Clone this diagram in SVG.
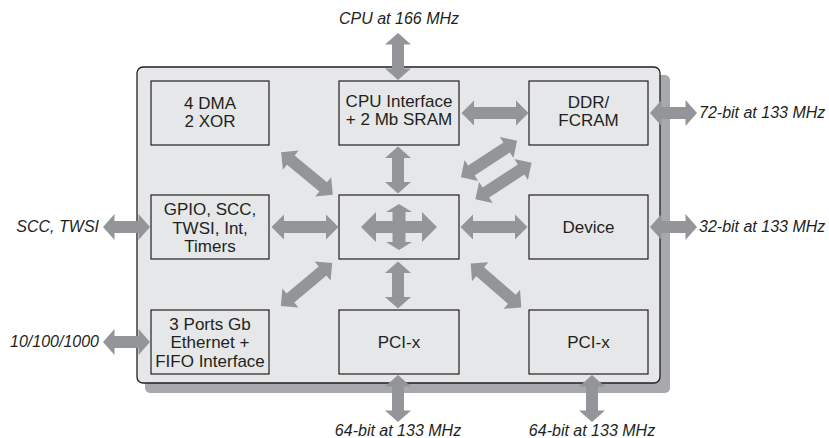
<svg xmlns="http://www.w3.org/2000/svg" xmlns:xlink="http://www.w3.org/1999/xlink" width="829" height="438" viewBox="0 0 829 438">
<style>
.box{fill:#e6e7e8;stroke:#231f20;stroke-width:1.2}
.t{font-family:"Liberation Sans",Arial,sans-serif;font-size:17px;fill:#231f20;text-anchor:middle}
.lbl{font-family:"Liberation Sans",Arial,sans-serif;font-size:16px;font-style:italic;fill:#231f20}
.arr{fill:#939598}
</style>
<defs>
<path id="a67" d="M-33.5 0 L-21 -12.5 L-21 -6 L21 -6 L21 -12.5 L33.5 0 L21 12.5 L21 6 L-21 6 L-21 12.5 Z"/>
<path id="a47" d="M-23.5 0 L-12 -13 L-12 -6 L12 -6 L12 -13 L23.5 0 L12 13 L12 6 L-12 6 L-12 13 Z"/>
</defs>
<rect width="829" height="438" fill="#ffffff"/>
<g id="chip">
<rect x="145" y="75" width="525" height="318" rx="5" fill="#a7a9ac"/>
<rect x="137" y="67" width="523" height="316" rx="6" fill="#e6e7e8" stroke="#231f20" stroke-width="1.3"/>
</g>
<g id="dma"><rect class="box" x="151" y="81" width="118" height="64"/><text class="t" x="210" y="108.5">4 DMA</text><text class="t" x="210" y="127">2 XOR</text></g>
<g id="cpuif"><rect class="box" x="339" y="81" width="120" height="64"/><text class="t" x="399" y="106.5">CPU Interface</text><text class="t" x="399" y="125">+ 2 Mb SRAM</text></g>
<g id="ddr"><rect class="box" x="529" y="81" width="119" height="64"/><text class="t" x="588.5" y="107.5">DDR/</text><text class="t" x="588.5" y="126">FCRAM</text></g>
<g id="gpio"><rect class="box" x="151" y="195" width="118" height="64"/><text class="t" x="210" y="215">GPIO, SCC,</text><text class="t" x="210" y="233.5">TWSI, Int,</text><text class="t" x="210" y="252">Timers</text></g>
<g id="xbar"><rect class="box" x="339" y="195" width="120" height="64"/>
<path class="arr" d="M361 227 L376 212 L376 221 L392.5 221 L392.5 212 L386 212 L399 204 L412 212 L405.5 212 L405.5 221 L422 221 L422 212 L437 227 L422 242 L422 233 L405.5 233 L405.5 242 L412 242 L399 250 L386 242 L392.5 242 L392.5 233 L376 233 L376 242 Z"/></g>
<g id="device"><rect class="box" x="529" y="195" width="119" height="64"/><text class="t" x="588.5" y="233">Device</text></g>
<g id="eth"><rect class="box" x="151" y="310" width="118" height="64"/><text class="t" x="210" y="329.5">3 Ports Gb</text><text class="t" x="210" y="348">Ethernet +</text><text class="t" x="210" y="366.5">FIFO Interface</text></g>
<g id="pcix1"><rect class="box" x="339" y="310" width="120" height="64"/><text class="t" x="399" y="348">PCI-x</text></g>
<g id="pcix2"><rect class="box" x="529" y="310" width="119" height="64"/><text class="t" x="588.5" y="348">PCI-x</text></g>
<g id="connectors" class="arr">
<use xlink:href="#a67" transform="translate(495,113)"/>
<use xlink:href="#a67" transform="translate(305,227)"/>
<use xlink:href="#a67" transform="translate(494,227)"/>
<use xlink:href="#a47" transform="translate(398,170) rotate(90)"/>
<use xlink:href="#a47" transform="translate(398,285) rotate(90)"/>
<use xlink:href="#a67" transform="translate(307,173.5) rotate(39.6)"/>
<use xlink:href="#a67" transform="translate(306.5,284.5) rotate(-40)"/>
<use xlink:href="#a67" transform="translate(496,285.5) rotate(41)"/>
<use xlink:href="#a67" transform="translate(489,159) rotate(-33)"/>
<use xlink:href="#a67" transform="translate(503.5,181) rotate(-33)"/>
<use xlink:href="#a47" transform="translate(398,56.5) rotate(90)"/>
<use xlink:href="#a47" transform="translate(673.5,113)"/>
<use xlink:href="#a47" transform="translate(673.5,227)"/>
<use xlink:href="#a47" transform="translate(126.5,227)"/>
<use xlink:href="#a47" transform="translate(126.5,342)"/>
<use xlink:href="#a47" transform="translate(398,398.5) rotate(90)"/>
<use xlink:href="#a47" transform="translate(592,398.5) rotate(90)"/>
</g>
<g id="labels">
<text class="lbl" x="399" y="24" text-anchor="middle">CPU at 166 MHz</text>
<text class="lbl" x="699" y="118">72-bit at 133 MHz</text>
<text class="lbl" x="699" y="232">32-bit at 133 MHz</text>
<text class="lbl" x="99" y="232" text-anchor="end">SCC, TWSI</text>
<text class="lbl" x="99" y="347" text-anchor="end">10/100/1000</text>
<text class="lbl" x="398" y="436" text-anchor="middle">64-bit at 133 MHz</text>
<text class="lbl" x="592" y="436" text-anchor="middle">64-bit at 133 MHz</text>
</g>
</svg>
